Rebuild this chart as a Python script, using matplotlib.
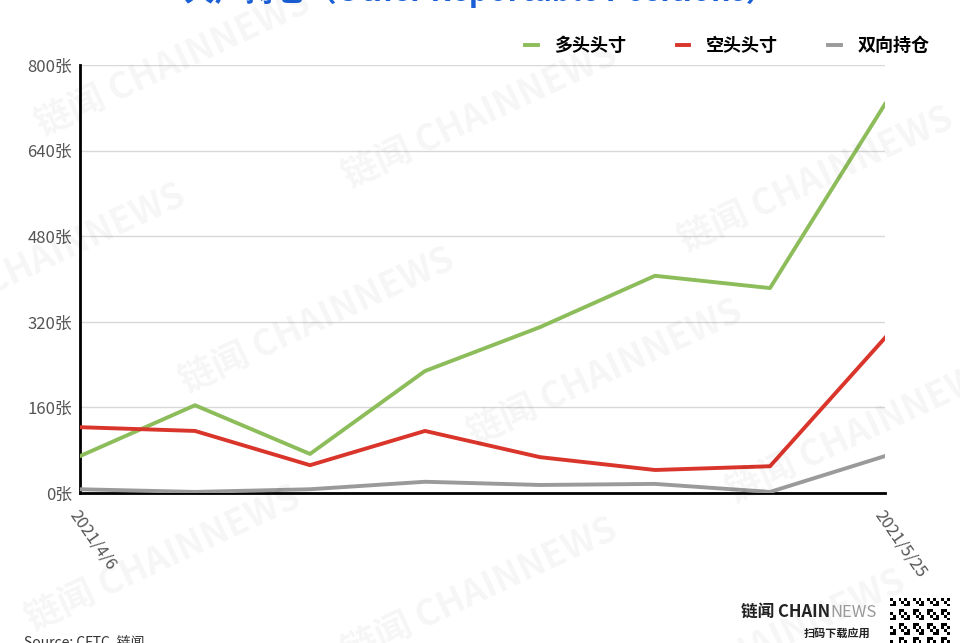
import numpy as np
import matplotlib
matplotlib.use("Agg")
import matplotlib.pyplot as plt

plt.rcParams['font.family'] = ['Noto Sans CJK SC', 'DejaVu Sans']

# ---data---------------------------------------------------------------
dates = ["2021/4/6", "2021/4/13", "2021/4/20", "2021/4/27",
         "2021/5/4", "2021/5/11", "2021/5/18", "2021/5/25"]
longPos = [69, 164, 73, 228, 310, 406, 383, 727]
shortPos = [123, 116, 52, 116, 67, 43, 50, 290]
spreadPos = [7, 2, 7, 21, 15, 17, 2, 69]
seriesNames = ["多头头寸", "空头头寸", "双向持仓"]
yTicks = [0, 160, 320, 480, 640, 800]

# ---figure-------------------------------------------------------------
fig = plt.figure(figsize=(9.6, 6.43), dpi=100)
ax = fig.add_axes([80/960, 1 - 493/643, 805/960, 428/643])

x = np.arange(len(dates))
ax.plot(x, longPos, color="#8dbd5b", lw=2.8, label=seriesNames[0], zorder=3)
ax.plot(x, shortPos, color="#d9352b", lw=2.8, label=seriesNames[1], zorder=3)
ax.plot(x, spreadPos, color="#9a9a9a", lw=2.8, label=seriesNames[2], zorder=3)

ax.set_xlim(0, len(dates) - 1)
ax.set_ylim(0, 800)
ax.set_yticks(yTicks)
ax.set_yticklabels([f"{v}张" for v in yTicks], fontsize=12, color="#555555")
ax.set_xticks([0, len(dates) - 1])
ax.set_xticklabels([dates[0], dates[-1]], rotation=-55, ha="left",
                   rotation_mode="anchor", fontsize=12, color="#555555")
ax.tick_params(axis="y", length=0, pad=6)
ax.tick_params(axis="x", length=0, pad=10)
ax.grid(axis="y", color="#d8d8d8", lw=1)
for side in ["top", "right"]:
    ax.spines[side].set_visible(False)
ax.spines["left"].set_linewidth(2)
ax.spines["bottom"].set_linewidth(2)

ax.legend(loc="lower right", bbox_to_anchor=(1.075, 0.985), ncol=3, frameon=False,
          handlelength=0.7, columnspacing=2.8, handletextpad=0.9,
          prop={'weight': 'bold', 'size': 13})

# title, cut off at the top edge like the source image
fig.text(0.5, 0.988, "大户持仓（Other Reportable Positions）", ha="center", va="bottom",
         fontsize=22, fontweight="bold", color="#1a5fd6")

# watermarks
for wx, wy in [(0.18, 0.9), (0.5, 0.82), (0.85, 0.72), (0.05, 0.6), (0.33, 0.5),
               (0.63, 0.42), (0.9, 0.33), (0.17, 0.13), (0.5, 0.08), (0.8, 0.0)]:
    fig.text(wx, wy, "链闻 CHAINNEWS", ha="center", va="center", fontsize=26,
             fontweight="bold", color="#000000", alpha=0.04, rotation=25)

# footer
fig.text(0.025, 0.0, "Source: CFTC, 链闻", ha="left", va="center",
         fontsize=10, color="#333333")
fig.text(830/960, 0.048, "链闻 CHAIN", ha="right", va="center", fontsize=12,
         fontweight="bold", color="#222222")
fig.text(830/960, 0.048, "NEWS", ha="left", va="center", fontsize=12,
         color="#999999")
fig.text(870/960, 0.015, "扫码下载应用", ha="right", va="center", fontsize=8,
         fontweight="bold", color="#222222")

qr = fig.add_axes([890/960, 0, 60/960, 45/643])
i, j = np.meshgrid(np.arange(21), np.arange(16))
pattern = ((i * 7 + j * 13 + i * j) % 5 < 2).astype(float)
qr.imshow(pattern, cmap="Greys", interpolation="nearest", aspect="auto")
qr.axis("off")

fig.savefig("out.png", dpi=100)
